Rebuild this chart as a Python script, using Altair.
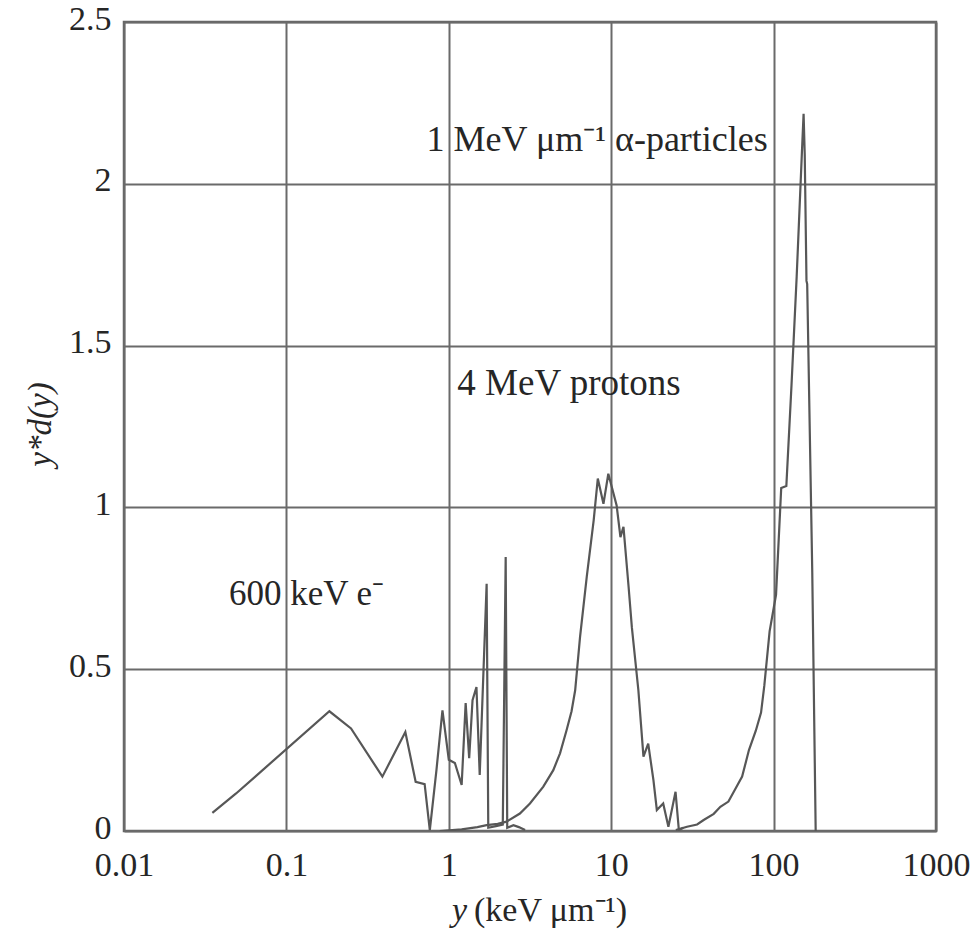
import altair as alt
import pandas as pd

# ---- data ----
e_x = [0.035, 0.049, 0.184, 0.25, 0.39, 0.54, 0.625, 0.71, 0.764, 0.84, 0.914, 1.0, 1.09, 1.2,
       1.27, 1.335, 1.40, 1.48, 1.55, 1.71, 1.75, 1.95, 2.15, 2.24, 2.29, 2.5, 2.7, 2.95]
e_y = [0.056, 0.116, 0.37, 0.317, 0.168, 0.306, 0.152, 0.145, 0.003, 0.19, 0.373, 0.22, 0.21, 0.142,
       0.395, 0.225, 0.404, 0.445, 0.173, 0.764, 0.01, 0.015, 0.02, 0.847, 0.01, 0.018, 0.012, 0.003]

p_x = [0.88, 1.2, 1.5, 1.71, 2.0, 2.27, 2.74, 3.16, 3.82, 4.4, 4.84, 5.3, 5.7, 6.0, 6.43, 7.07, 7.8,
       8.27, 8.96, 9.6, 10.8, 11.4, 11.9, 12.8, 13.4, 14.7, 15.8, 16.9, 18.2, 19.1, 20.9, 22.5,
       24.9, 26.1, 27.8]
p_y = [0.0, 0.005, 0.012, 0.018, 0.022, 0.029, 0.054, 0.085, 0.137, 0.188, 0.24, 0.31, 0.37, 0.435,
       0.6, 0.785, 0.96, 1.089, 1.011, 1.104, 1.006, 0.908, 0.94, 0.754, 0.63, 0.435, 0.23, 0.27,
       0.157, 0.065, 0.085, 0.013, 0.121, 0.003, 0.01]

a_x = [25.0, 29.3, 33.8, 37.1, 42.8, 47.0, 52.7, 58.1, 64.0, 70.5, 77.7, 83.7, 87.7, 94.5, 103.5,
       111.4, 119.8, 128.9, 138.7, 149.3, 153.0, 155.5, 159.4, 161.0, 161.5, 173.0, 181.6]
a_y = [0.003, 0.013, 0.02, 0.034, 0.053, 0.075, 0.091, 0.13, 0.168, 0.25, 0.31, 0.366, 0.45, 0.617,
       0.73, 1.06, 1.066, 1.378, 1.713, 2.094, 2.216, 2.09, 1.70, 1.69, 1.653, 0.80, 0.0]

x_ticks = [0.01, 0.1, 1, 10, 100, 1000]
y_ticks = [0, 0.5, 1, 1.5, 2, 2.5]

labels = ["1 MeV μm⁻¹ α-particles", "4 MeV protons", "600 keV e⁻"]
label_x = [8.2, 5.5, 0.133]
label_y = [2.136, 1.38, 0.731]
label_size = [36, 37, 35]

x_title_var = "y"
x_title_unit = "(keV μm⁻¹)"
y_title = "y*d(y)"

# ---- tables ----
rows = []
for name, xs, ys in [("e", e_x, e_y), ("p", p_x, p_y), ("a", a_x, a_y)]:
    for i, (xv, yv) in enumerate(zip(xs, ys)):
        rows.append({"series": name, "x": xv, "y": yv, "i": i})
df = pd.DataFrame(rows)
lab_df = pd.DataFrame({"label": labels, "x": label_x, "y": label_y, "size": label_size})

FONT = "Liberation Serif"
INK = "#262626"
LINE = "#575757"

xscale = alt.Scale(type="log", domain=[0.01, 1000])
yscale = alt.Scale(domain=[0, 2.5])

lines = alt.Chart(df).mark_line(color=LINE, strokeWidth=2.2, clip=True).encode(
    x=alt.X("x:Q", scale=xscale,
            axis=alt.Axis(values=x_ticks, format="~g", title=None, grid=True,
                          labelPadding=17, labelFlush=False)),
    y=alt.Y("y:Q", scale=yscale,
            axis=alt.Axis(values=y_ticks, format="~g", title=y_title, grid=True,
                          labelPadding=13, labelFlush=False, labelOffset=-3,
                          titleFontStyle="italic", titleX=-84, titleY=402,
                          titleAngle=-90, titleAlign="center", titleBaseline="middle")),
    detail="series:N",
    order="i:Q",
)

ann = alt.Chart(lab_df).mark_text(font=FONT, color=INK, align="center",
                                  baseline="middle").encode(
    x=alt.X("x:Q", scale=xscale),
    y=alt.Y("y:Q", scale=yscale),
    text="label:N",
    size=alt.Size("size:Q", scale=None, legend=None),
)

t_df = pd.DataFrame({"a": [x_title_var], "b": [x_title_unit]})
xt1 = alt.Chart(t_df).mark_text(font=FONT, fontSize=34, fontStyle="italic", color=INK,
                                align="right", baseline="middle").encode(
    x=alt.value(343), y=alt.value(889), text="a:N")
xt2 = alt.Chart(t_df).mark_text(font=FONT, fontSize=34, color=INK,
                                align="left", baseline="middle").encode(
    x=alt.value(350), y=alt.value(889), text="b:N")

chart = alt.layer(lines, ann, xt1, xt2).properties(
    width=812, height=809,
    autosize=alt.AutoSizeParams(type="none"),
    padding={"left": 124, "top": 22, "right": 42, "bottom": 101},
).configure_view(
    stroke="#666666", strokeWidth=2.5
).configure_axis(
    domain=False, ticks=False,
    gridColor="#6a6a6a", gridWidth=2, gridOpacity=1,
    labelFont=FONT, labelFontSize=34, labelColor=INK,
    titleFont=FONT, titleFontSize=33, titleColor=INK, titleFontWeight="normal",
)

chart.save("out.html", embed_options={"renderer": "svg", "actions": False})
